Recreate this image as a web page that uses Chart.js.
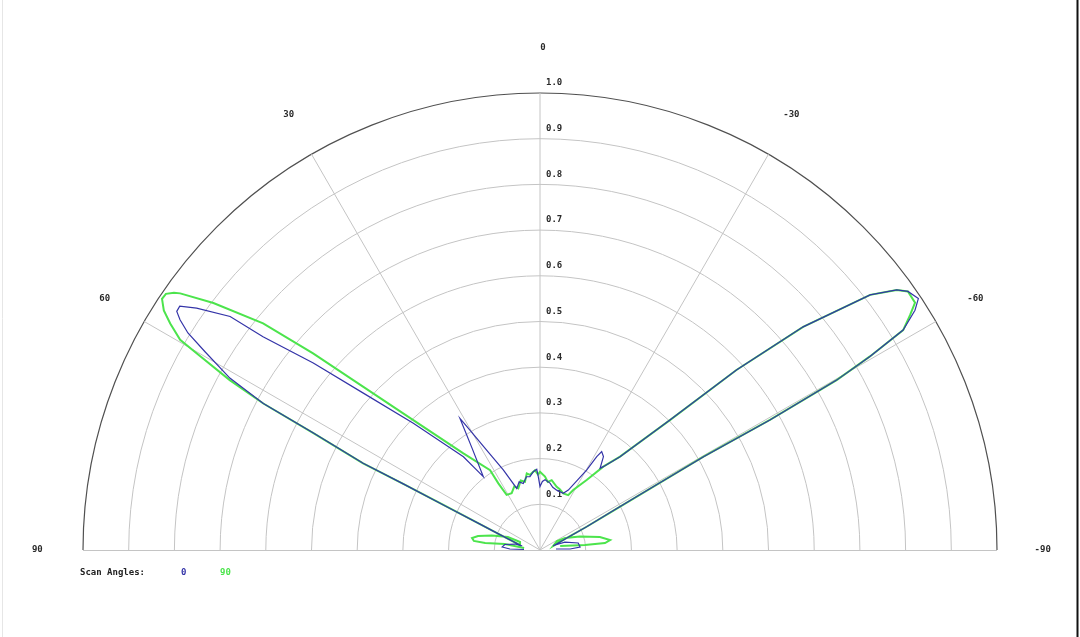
<!DOCTYPE html>
<html>
<head>
<meta charset="utf-8">
<script src="https://cdn.jsdelivr.net/npm/chart.js@4.4.0/dist/chart.umd.min.js"></script>
<style>
html,body{margin:0;padding:0;background:#fff;overflow:hidden}
#wrap{position:relative;width:1080px;height:637px}
</style>
</head>
<body>
<div id="wrap"><canvas id="c"></canvas></div>
<script>
// ---- data (angle in degrees, positive = left of vertical; magnitude 0..1) ----
const seriesLabels = ["0", "90"];
const legendTitle = "Scan Angles:";
const ringTicks = [0.1,0.2,0.3,0.4,0.5,0.6,0.7,0.8,0.9,1.0];
const ringTickLabels = ["0.1","0.2","0.3","0.4","0.5","0.6","0.7","0.8","0.9","1.0"];
const spokeAngles = [60, 30, 0, -30, -60];
const angleTicks = [90, 60, 30, 0, -30, -60, -90];

const blueAngles = [88.2,88.1,85.5,81.1,76.5,77.5,
  76.0,69.0,66.7,65.1,64.2,63.9,62.7,62.1,61.0,59.4,58.35,57.4,56.7,55.9,54.85,53.0,52.4,50.5,48.4,45.0,39.4,37.7,
  33.7,31.3,30.3,28.1,24.6,20.7,
  17.0,14.1,10.5,7.8,4.9,2.3,1.3,0,-2.0,-4.1,-8.5,-11.5,-15.6,-22.3,-25.3,
  -30.3,-31.3,-32.1,-34.2,-36.3,
  -37.2,-40.6,-45.0,-47.5,-49.7,-52.3,-53.9,-54.9,-56.4,-57.4,-58.8,-59.6,-60.2,-60.5,-60.3,-61.1,-61.9,-63.5,-66.3,-72.9,
  -71.6,-72.3,-79.6,-85.7,-88.1,-86.4];
const blueMagnitudes = [0.035,0.066,0.083,0.078,0.056,0.040,
  0.045,0.094,0.143,0.225,0.330,0.431,0.559,0.685,0.776,0.851,0.905,0.935,0.951,0.952,0.919,0.849,0.765,0.643,0.517,0.392,0.264,0.203,
  0.268,0.337,0.304,0.248,0.193,0.144,
  0.156,0.150,0.163,0.162,0.172,0.177,0.160,0.139,0.150,0.154,0.148,0.140,0.136,0.134,0.145,
  0.203,0.239,0.254,0.247,0.222,
  0.229,0.269,0.402,0.583,0.755,0.913,0.966,0.984,0.994,0.974,0.929,0.837,0.748,0.578,0.412,0.242,0.174,0.114,0.060,0.030,
  0.035,0.057,0.085,0.088,0.066,0.035];

const greenAngles = [82.9,80.3,82.7,82.2,80.0,77.3,73.2,67.9,68.2,
  76.0,69.0,66.7,65.1,64.2,63.9,62.7,62.1,61.3,60.2,59.7,58.5,57.5,56.4,55.6,54.9,54.5,52.9,50.7,49.1,47.3,44.3,38.4,32.0,32.0,31.2,
  26.5,22.0,19.4,15.5,12.4,9.8,7.6,3.6,1.5,0,-3.9,-6.5,-9.5,-14.8,-18.0,-22.3,-27.2,-29.0,
  -33.7,-37.2,-40.6,-45.0,-47.5,-49.7,-52.3,-53.9,-54.9,-56.6,-57.6,-58.8,-59.6,-60.2,-60.5,-60.3,-61.1,-61.9,-63.5,-66.3,-72.9,
  -62.1,-64.4,-71.4,-77.8,-81.9,-83.9,-83.7,-78.7];
const greenMagnitudes = [0.035,0.078,0.121,0.146,0.151,0.139,0.110,0.076,0.047,
  0.045,0.094,0.143,0.225,0.330,0.431,0.559,0.685,0.774,0.866,0.912,0.949,0.976,0.993,0.992,0.979,0.967,0.896,0.783,0.657,0.527,0.397,0.270,0.206,0.172,0.141,
  0.139,0.150,0.143,0.158,0.153,0.170,0.166,0.175,0.165,0.171,0.161,0.150,0.155,0.143,0.140,0.134,0.135,0.150,
  0.184,0.229,0.269,0.402,0.583,0.755,0.913,0.966,0.984,0.983,0.959,0.929,0.837,0.748,0.578,0.412,0.242,0.174,0.114,0.060,0.030,
  0.042,0.061,0.092,0.134,0.155,0.143,0.099,0.045];

// ---- layout constants ----
const W = 1080, H = 637, CX = 540, CY = 550, RPX = 457;
const blueColor = "#3434a8", greenColor = "#4ce44c";

function toXY(angles, mags){
  return angles.map((a,i)=>{
    const t = a*Math.PI/180;
    return {x: -mags[i]*Math.sin(t), y: mags[i]*Math.cos(t)};
  });
}

const polarGrid = {
  id: "polarGrid",
  beforeDatasetsDraw(chart){
    const {ctx, scales:{x, y}} = chart;
    const cx = x.getPixelForValue(0), cy = y.getPixelForValue(0);
    const R = x.getPixelForValue(1) - cx;
    ctx.save();
    ctx.lineWidth = 1;
    ringTicks.forEach(v=>{
      ctx.beginPath();
      ctx.strokeStyle = v >= 1 ? "#505050" : "#c4c4c4";
      ctx.lineWidth = v >= 1 ? 1.2 : 1;
      ctx.arc(cx, cy, R*v, Math.PI, 2*Math.PI);
      ctx.stroke();
    });
    ctx.strokeStyle = "#c4c4c4";
    ctx.lineWidth = 1;
    spokeAngles.forEach(a=>{
      const t = a*Math.PI/180;
      ctx.beginPath();
      ctx.moveTo(cx, cy);
      ctx.lineTo(cx - R*Math.sin(t), cy - R*Math.cos(t));
      ctx.stroke();
    });
    ctx.beginPath();
    ctx.moveTo(cx - R, cy + 0.5);
    ctx.lineTo(cx + R, cy + 0.5);
    ctx.stroke();
    ctx.fillStyle = "#2a2a2a";
    ctx.font = "bold 9px 'DejaVu Sans Mono', monospace";
    ctx.textAlign = "left";
    ctx.textBaseline = "middle";
    ringTicks.forEach((v,i)=>{
      ctx.fillText(ringTickLabels[i], cx + 6, cy - R*v - 10);
    });
    ctx.textAlign = "center";
    angleTicks.forEach(a=>{
      const t = a*Math.PI/180;
      const rr = 1.1*R;
      ctx.fillText(String(a), cx - rr*Math.sin(t) + (a===0?3:0), cy - rr*Math.cos(t));
    });
    ctx.textAlign = "left";
    ctx.fillStyle = "#222";
    ctx.fillText(legendTitle, 80, 573);
    ctx.fillStyle = blueColor;
    ctx.fillText(seriesLabels[0], 181, 573);
    ctx.fillStyle = greenColor;
    ctx.fillText(seriesLabels[1], 220, 573);
    ctx.restore();
  },
  afterDraw(chart){
    const ctx = chart.ctx;
    ctx.save();
    ctx.strokeStyle = "#111";
    ctx.lineWidth = 2;
    ctx.beginPath(); ctx.moveTo(1077.5, 0); ctx.lineTo(1077.5, H); ctx.stroke();
    ctx.strokeStyle = "#e6e6e6";
    ctx.lineWidth = 1;
    ctx.beginPath(); ctx.moveTo(2.5, 0); ctx.lineTo(2.5, H); ctx.stroke();
    ctx.restore();
  }
};

new Chart(document.getElementById("c"), {
  type: "scatter",
  data: {
    datasets: [
      {label: seriesLabels[0], data: toXY(blueAngles, blueMagnitudes), showLine: true, order: 0,
       borderColor: blueColor, borderWidth: 1.2, pointRadius: 0, tension: 0, fill: false},
      {label: seriesLabels[1], data: toXY(greenAngles, greenMagnitudes), showLine: true, order: 1,
       borderColor: greenColor, borderWidth: 2, pointRadius: 0, tension: 0, fill: false}
    ]
  },
  options: {
    responsive: true,
    maintainAspectRatio: false,
    animation: false,
    layout: {padding: 0},
    plugins: {legend: {display: false}, tooltip: {enabled: false}},
    scales: {
      x: {type: "linear", display: false, min: -CX/RPX, max: (W-CX)/RPX},
      y: {type: "linear", display: false, min: -(H-CY)/RPX, max: CY/RPX}
    }
  },
  plugins: [polarGrid]
});
</script>
</body>
</html>
